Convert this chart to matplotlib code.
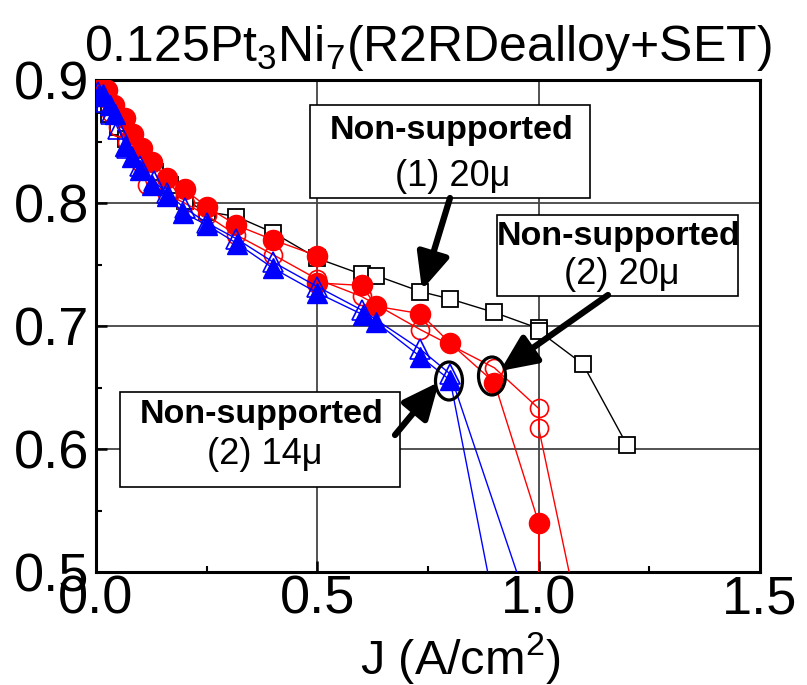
import matplotlib
matplotlib.use("Agg")
import matplotlib.pyplot as plt
from matplotlib.patches import Rectangle, Ellipse

plt.rcParams['font.family'] = ['Liberation Sans', 'DejaVu Sans']
plt.rcParams['mathtext.fontset'] = 'custom'
plt.rcParams['mathtext.rm'] = 'Liberation Sans'
plt.rcParams['mathtext.it'] = 'Liberation Sans:italic'
plt.rcParams['mathtext.bf'] = 'Liberation Sans:bold'

# ---- data ----
J_black = [0.01, 0.02, 0.03, 0.05, 0.067, 0.1, 0.133, 0.167, 0.2, 0.25, 0.317, 0.4,
           0.5, 0.6, 0.633, 0.733, 0.8, 0.9, 1.0, 1.0, 1.1, 1.2]
V_black = [0.887, 0.880, 0.872, 0.862, 0.852, 0.838, 0.825, 0.815, 0.802, 0.793, 0.789, 0.776,
           0.755, 0.742, 0.741, 0.728, 0.722, 0.711, 0.698, 0.696, 0.669, 0.603]

J_red_open = [0.01, 0.02, 0.035, 0.05, 0.07, 0.1, 0.115, 0.16, 0.2, 0.25, 0.317, 0.4,
              0.5, 0.6, 0.733, 0.9, 1.0, 1.0, 1.1]
V_red_open = [0.893, 0.885, 0.873, 0.862, 0.850, 0.833, 0.815, 0.807, 0.800, 0.790, 0.774, 0.758,
              0.738, 0.724, 0.697, 0.666, 0.633, 0.617, 0.447]

J_red_fill = [0.01, 0.025, 0.04, 0.066, 0.084, 0.104, 0.127, 0.161, 0.2, 0.25, 0.317, 0.4,
              0.5, 0.5, 0.6, 0.633, 0.733, 0.8, 0.9, 1.0, 1.0]
V_red_fill = [0.897, 0.892, 0.880, 0.869, 0.856, 0.845, 0.833, 0.820, 0.811, 0.797, 0.782, 0.770,
              0.757, 0.735, 0.733, 0.716, 0.710, 0.686, 0.654, 0.540, 0.300]

J_blue_open = [0.005, 0.02, 0.035, 0.05, 0.07, 0.1, 0.13, 0.16, 0.2, 0.25, 0.317, 0.4,
               0.5, 0.6, 0.733, 0.8, 1.0]
V_blue_open = [0.890, 0.882, 0.872, 0.860, 0.845, 0.830, 0.818, 0.808, 0.796, 0.784, 0.771, 0.752,
               0.732, 0.713, 0.681, 0.661, 0.447]

J_blue_fill = [0.005, 0.016, 0.032, 0.043, 0.066, 0.081, 0.1, 0.127, 0.161, 0.197, 0.251, 0.319,
               0.4, 0.5, 0.604, 0.633, 0.733, 0.8, 0.9]
V_blue_fill = [0.887, 0.889, 0.880, 0.872, 0.846, 0.837, 0.827, 0.815, 0.806, 0.792, 0.782, 0.767,
               0.747, 0.727, 0.709, 0.703, 0.675, 0.656, 0.472]

title = "0.125Pt$_3$Ni$_7$(R2RDealloy+SET)"
xlabel = "J (A/cm$^2$)"
box_labels = [("Non-supported", "(1) 20\u03bc"),
              ("Non-supported", "(2) 20\u03bc"),
              ("Non-supported", "(2) 14\u03bc")]

# ---- figure ----
W, H = 807, 685
fig = plt.figure(figsize=(W / 100, H / 100), dpi=100)
L, R, T, B = 96, 760, 80, 572
ax = fig.add_axes([L / W, 1 - B / H, (R - L) / W, (B - T) / H])

ax.plot(J_black, V_black, color='black', lw=1.0, marker='s', ms=11, mfc='white',
        mec='black', mew=1.3, zorder=3)
ax.plot(J_red_open, V_red_open, color='red', lw=1.0, marker='o', ms=13, mfc='none',
        mec='red', mew=1.2, zorder=4)
ax.plot(J_red_fill, V_red_fill, color='red', lw=1.0, marker='o', ms=14.5, mfc='red',
        mec='red', zorder=5)
ax.plot(J_blue_open, V_blue_open, color='blue', lw=1.0, marker='^', ms=15, mfc='none',
        mec='blue', mew=1.2, zorder=6)
ax.plot(J_blue_fill, V_blue_fill, color='blue', lw=1.0, marker='^', ms=15, mfc='blue',
        mec='blue', zorder=7)

ax.set_xlim(0, 1.5)
ax.set_ylim(0.5, 0.9)
ax.set_xticks([0.0, 0.5, 1.0, 1.5])
ax.set_xticks([0.25, 0.75, 1.25], minor=True)
ax.set_yticks([0.5, 0.6, 0.7, 0.8, 0.9])
ax.set_yticks([0.55, 0.65, 0.75, 0.85], minor=True)
ax.set_xticklabels(["0.0", "0.5", "1.0", "1.5"])
ax.set_yticklabels(["0.5", "0.6", "0.7", "0.8", "0.9"])
ax.tick_params(which='major', direction='in', length=8, width=1.8, labelsize=39, pad=5)
ax.tick_params(which='minor', direction='in', length=4, width=1.5)
ax.tick_params(axis='x', pad=2)
ax.grid(True, which='major', color='#444444', lw=1.3, zorder=1)
for s in ax.spines.values():
    s.set_linewidth(2.2)

ax.set_title(title, fontsize=36, pad=14)
ax.set_xlabel(xlabel, fontsize=35)
ax.xaxis.set_label_coords((460 - L) / (R - L), -0.118)


def fx(px):
    return (px - L) / (R - L)


def fy(py):
    return (B - py) / (B - T)


boxes = [(310, 590, 105, 198), (497, 738, 215, 296), (120, 400, 392, 487)]
text_pos = [((452, 130), (453, 176)), ((619, 236), (622, 274)), ((262, 415), (265, 455))]
for (x0, x1, y0, y1), (p1, p2), (t1, t2) in zip(boxes, text_pos, box_labels):
    ax.add_patch(Rectangle((fx(x0), fy(y1)), fx(x1) - fx(x0), fy(y0) - fy(y1),
                           transform=ax.transAxes, facecolor='white', edgecolor='black',
                           lw=1.2, zorder=10, clip_on=False))
    ax.text(fx(p1[0]), fy(p1[1]), t1, transform=ax.transAxes, ha='center', va='center',
            fontsize=24.5, fontweight='bold', zorder=11)
    ax.text(fx(p2[0]), fy(p2[1]), t2, transform=ax.transAxes, ha='center', va='center',
            fontsize=26, zorder=11)

arrows = [((450, 198), (422, 290)), ((608, 295), (500, 371)), ((395, 435), (439, 382))]
for (sx, sy), (ex, ey) in arrows:
    ax.annotate("", xy=(fx(ex), fy(ey)), xycoords='axes fraction',
                xytext=(fx(sx), fy(sy)), textcoords='axes fraction',
                arrowprops=dict(arrowstyle='-|>,head_length=1.0,head_width=0.45',
                                lw=4.5, color='black', mutation_scale=22,
                                shrinkA=0, shrinkB=0),
                zorder=12)

for cx, cy in [(492, 376), (449, 381)]:
    ax.add_patch(Ellipse((fx(cx), fy(cy)), 27 / (R - L), 38 / (B - T), transform=ax.transAxes,
                         facecolor='none', edgecolor='black', lw=2.3, zorder=12))

fig.savefig("out.png", dpi=100)
